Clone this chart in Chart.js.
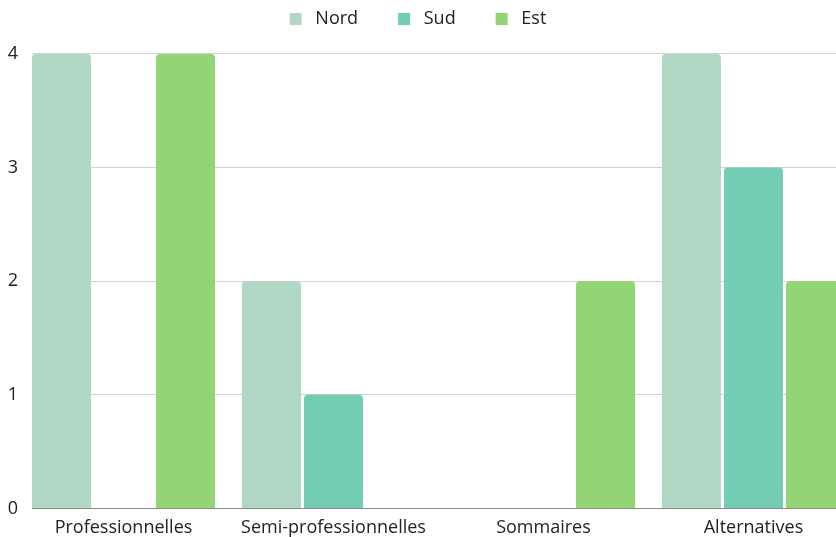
<!DOCTYPE html>
<html lang="fr">
<head>
<meta charset="utf-8">
<title>Nord / Sud / Est</title>
<script src="https://cdn.jsdelivr.net/npm/chart.js@4/dist/chart.umd.min.js"></script>
<style>
  html, body { margin: 0; padding: 0; background: #ffffff; overflow: hidden; }
  #wrap { position: relative; width: 836px; height: 537px; }
</style>
</head>
<body>
<div id="wrap"><canvas id="chart"></canvas></div>
<script>
// Categories and series values
const categories = ['Professionnelles', 'Semi-professionnelles', 'Sommaires', 'Alternatives'];
const seriesNames = ['Nord', 'Sud', 'Est'];
const nord = [4, 2, 0, 4];
const sud  = [0, 1, 0, 3];
const est  = [4, 0, 2, 2];
const yTicks = [0, 1, 2, 3, 4];

const colors = ['#b0d8c5', '#73cdb4', '#93d475'];
const FONT = '"Open Sans", "Noto Sans", sans-serif';

// Bars sit on a numeric index axis so the visible window can start at the first group
const toPoints = (vals) => vals.map((v, i) => ({ x: i, y: v }));

const datasets = [nord, sud, est].map((vals, k) => ({
  label: seriesNames[k],
  data: toPoints(vals),
  backgroundColor: colors[k],
  borderWidth: 0,
  borderRadius: 4,
  categoryPercentage: 0.886,
  barPercentage: 0.952
}));

new Chart(document.getElementById('chart'), {
  type: 'bar',
  data: { datasets },
  options: {
    responsive: true,
    maintainAspectRatio: false,
    animation: false,
    layout: { padding: { top: -30, left: 0, right: 0, bottom: -11 } },
    plugins: {
      tooltip: { enabled: false },
      legend: {
        position: 'top',
        align: 'center',
        labels: {
          boxWidth: 12,
          boxHeight: 12,
          padding: 40,
          color: '#222222',
          font: { family: FONT, size: 18 },
          generateLabels(chart) {
            return Chart.defaults.plugins.legend.labels.generateLabels(chart).map(item => {
              item.text = ' ' + item.text;
              item.lineWidth = 0;
              return item;
            });
          }
        }
      }
    },
    scales: {
      x: {
        type: 'linear',
        min: -0.4357,
        max: 3.393,
        offset: false,
        grid: { display: false, drawTicks: false },
        border: { display: true, color: '#8a8a8a', width: 1 },
        afterBuildTicks(scale) {
          scale.ticks = categories.map((_, i) => ({ value: i }));
        },
        ticks: {
          padding: 9,
          maxRotation: 0,
          autoSkip: false,
          color: '#222222',
          font: { family: FONT, size: 18 },
          callback: (value) => categories[value]
        }
      },
      y: {
        min: 0,
        max: 4.14,
        grid: { color: '#d2d2d2', lineWidth: 1, drawTicks: false },
        border: { display: false },
        afterBuildTicks(scale) {
          scale.ticks = yTicks.map(v => ({ value: v }));
        },
        afterFit(scale) { scale.width = 32; },
        ticks: {
          padding: 14,
          color: '#222222',
          font: { family: FONT, size: 18 }
        }
      }
    }
  }
});
</script>
</body>
</html>
